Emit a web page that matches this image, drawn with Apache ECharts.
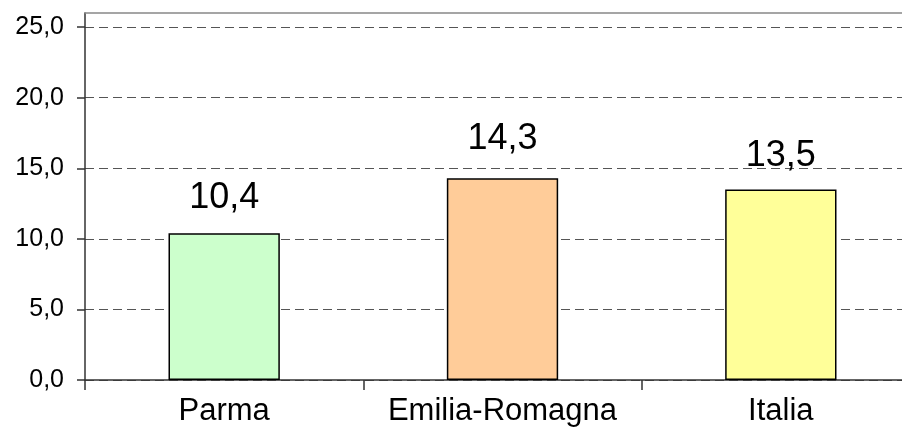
<!DOCTYPE html>
<html>
<head>
<meta charset="utf-8">
<script src="https://cdn.jsdelivr.net/npm/echarts@6/dist/echarts.min.js"></script>
<style>
  html, body { margin: 0; padding: 0; background: #fff; overflow: hidden; }
  /* l'area del grafico prosegue oltre il bordo destro, come nell'originale */
  #chart { width: 920px; height: 432px; }
</style>
</head>
<body>
<div id="chart"></div>
<script>
const categories = ['Parma', 'Emilia-Romagna', 'Italia'];
const values = [10.4, 14.3, 13.5];
const barColors = ['#CCFFCC', '#FFCC99', '#FFFF99'];
const labelGaps = [17, 21, 15];
const yTicks = [0, 5, 10, 15, 20, 25];

// formato italiano con la virgola
const fmt = v => Number(v).toFixed(1).replace('.', ',');

const chart = echarts.init(document.getElementById('chart'));

const option = {
  animation: false,
  backgroundColor: '#fff',
  textStyle: { fontFamily: 'Liberation Sans, Arial, sans-serif' },
  grid: { left: 85, right: 0, top: 13, bottom: 52 },
  xAxis: [
    {
      type: 'category',
      data: categories,
      axisLine: { lineStyle: { color: '#333', width: 1.5 } },
      axisTick: { show: true, length: 10, interval: 0, alignWithLabel: false, lineStyle: { color: '#333', width: 1.5 } },
      axisLabel: { color: '#000', fontSize: 31, margin: 16, interval: 0 }
    },
    {
      // bordo superiore dell'area del grafico
      type: 'category',
      position: 'top',
      data: categories,
      axisLine: { show: true, lineStyle: { color: '#888', width: 1.5 } },
      axisTick: { show: false },
      axisLabel: { show: false }
    }
  ],
  yAxis: {
    type: 'value',
    min: 0,
    max: 26,
    interval: 5,
    axisLine: { show: true, lineStyle: { color: '#333', width: 1.5 } },
    axisTick: { show: true, length: 8, customValues: yTicks, lineStyle: { color: '#333', width: 1.5 } },
    axisLabel: { color: '#000', fontSize: 25, margin: 21, customValues: yTicks, formatter: fmt },
    splitLine: { show: true, lineStyle: { color: '#555', width: 1, type: [9, 5] } }
  },
  series: [
    {
      type: 'bar',
      xAxisIndex: 0,
      barWidth: '40%',
      data: values.map((v, i) => ({
        value: v,
        itemStyle: { color: barColors[i], borderColor: '#000', borderWidth: 1.5 },
        label: { distance: labelGaps[i] }
      })),
      label: {
        show: true,
        position: 'top',
        color: '#000',
        fontSize: 36,
        formatter: p => fmt(p.value)
      }
    }
  ]
};

chart.setOption(option);
</script>
</body>
</html>
